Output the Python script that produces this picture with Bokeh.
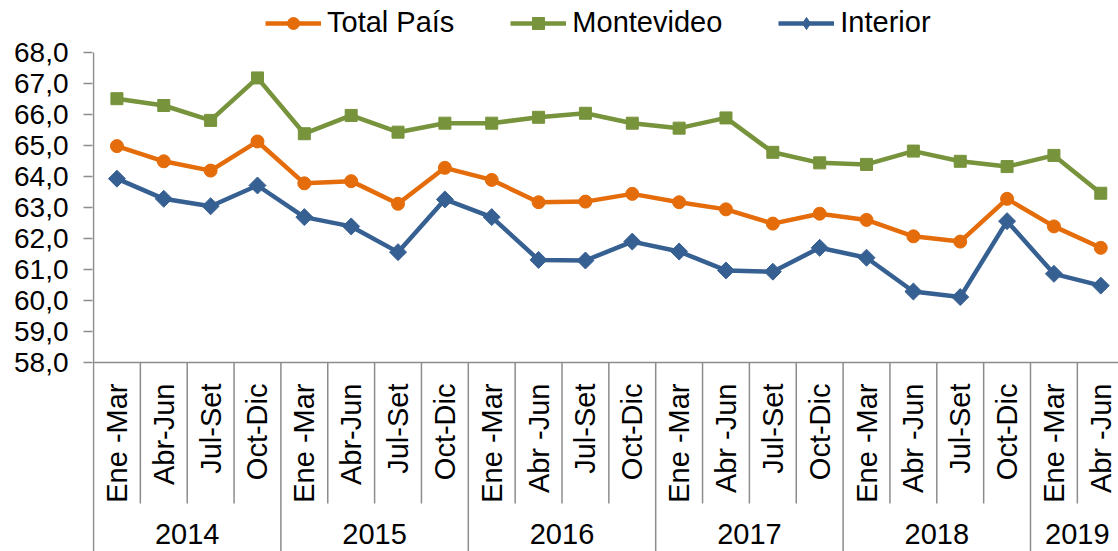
import numpy as np
from bokeh.plotting import figure
from bokeh.models import (Range1d, FixedTicker, CustomJSTickFormatter, Legend,
                          LegendItem)
from bokeh.core.properties import value
from bokeh.embed import file_html
from bokeh.resources import INLINE

# ---------------- data ----------------
quarters = ["Ene -Mar", "Abr-Jun", "Jul-Set", "Oct-Dic",
            "Ene -Mar", "Abr-Jun", "Jul-Set", "Oct-Dic",
            "Ene -Mar", "Abr -Jun", "Jul-Set", "Oct-Dic",
            "Ene -Mar", "Abr -Jun", "Jul-Set", "Oct-Dic",
            "Ene -Mar", "Abr -Jun", "Jul-Set", "Oct-Dic",
            "Ene -Mar", "Abr -Jun"]
years = ["2014", "2015", "2016", "2017", "2018", "2019"]
year_sizes = [4, 4, 4, 4, 4, 2]

total_pais = [64.98, 64.49, 64.19, 65.13, 63.78, 63.85, 63.12, 64.28, 63.89, 63.17, 63.19,
              63.44, 63.17, 62.94, 62.48, 62.80, 62.60, 62.07, 61.90, 63.28, 62.39, 61.70]
montevideo = [66.51, 66.29, 65.81, 67.18, 65.38, 65.97, 65.43, 65.72, 65.72, 65.91, 66.04,
              65.72, 65.56, 65.89, 64.78, 64.44, 64.39, 64.82, 64.49, 64.32, 64.68, 63.46]
interior = [63.93, 63.28, 63.04, 63.71, 62.69, 62.39, 61.56, 63.26, 62.69, 61.31, 61.29,
            61.90, 61.58, 60.97, 60.93, 61.70, 61.38, 60.29, 60.11, 62.56, 60.86, 60.48]

y_ticks = [58, 59, 60, 61, 62, 63, 64, 65, 66, 67, 68]

# ---------------- style ----------------
FONT = "Liberation Sans"
GRAY = "#8c8c8c"
ORANGE = "#E46C0A"
GREEN = "#77933C"
BLUE = "#376092"
W, H = 1118, 551
LEFT = 92           # frame left (px)
CW = 46.85          # px per category
PX_Y = 31.0         # px per unit on y
Y_MIN, Y_MAX = min(y_ticks), max(y_ticks)
y_bottom = Y_MIN - (H - 362) / PX_Y
y_top = Y_MAX + 52 / PX_Y

n = len(quarters)
xs = np.arange(n) + 0.5

p = figure(width=W, height=H, output_backend="svg", toolbar_location=None,
           x_range=Range1d(-1 / CW, (W - LEFT - 1) / CW), y_range=Range1d(y_bottom, y_top),
           x_axis_location=None, min_border_left=LEFT, min_border_right=0,
           min_border_top=0, min_border_bottom=0)
p.grid.visible = False
p.outline_line_color = None
p.background_fill_color = "white"

yax = p.yaxis[0]
yax.ticker = FixedTicker(ticks=y_ticks)
yax.formatter = CustomJSTickFormatter(code="return tick.toFixed(1).replace('.', ',');")
yax.axis_line_color = None
yax.major_tick_in = 0
yax.major_tick_out = 9
yax.major_tick_line_color = GRAY
yax.major_tick_line_width = 1.5
yax.minor_tick_line_color = None
yax.major_label_standoff = 15
yax.major_label_text_font = FONT
yax.major_label_text_font_size = "28px"
yax.major_label_text_color = "black"

# axis lines
p.segment(x0=[0], y0=[y_bottom], x1=[0], y1=[Y_MAX], line_color=GRAY, line_width=1.5)
p.segment(x0=[0], y0=[Y_MIN], x1=[n], y1=[Y_MIN], line_color=GRAY, line_width=1.5)

# category separators
year_bounds = list(np.cumsum(year_sizes))
q_bounds = [k for k in range(1, n) if k not in year_bounds]
q_end = Y_MIN - 141 / PX_Y
p.segment(x0=q_bounds, y0=[Y_MIN] * len(q_bounds), x1=q_bounds, y1=[q_end] * len(q_bounds),
          line_color=GRAY, line_width=1.5)
p.segment(x0=year_bounds, y0=[Y_MIN] * len(year_bounds), x1=year_bounds,
          y1=[y_bottom] * len(year_bounds), line_color=GRAY, line_width=1.5)

# category labels
p.text(x=xs, y=[Y_MIN - 21 / PX_Y] * n, text=quarters, angle=np.pi / 2,
       text_align="right", text_baseline="middle", text_font=value(FONT),
       text_font_size="29px", text_color="black")
starts = [0] + year_bounds[:-1]
year_x = [s + sz / 2 for s, sz in zip(starts, year_sizes)]
p.text(x=year_x, y=[Y_MIN - 171 / PX_Y] * len(years), text=years,
       text_align="center", text_baseline="middle", text_font=value(FONT),
       text_font_size="29px", text_color="black")

# series
items = []
for label, data, color, marker, size, ang, lmarker, lsize in [
        ("Total País", total_pais, ORANGE, "circle", 13, 0, "circle", 12),
        ("Montevideo", montevideo, GREEN, "square", 12, 0, "square", 11),
        ("Interior", interior, BLUE, "square", 12, np.pi / 4, "diamond", 18)]:
    lr = p.line(xs, data, line_color=color, line_width=4.5, line_join="round")
    sr = p.scatter(xs, data, marker=marker, size=size, angle=ang,
                   fill_color=color, line_color=color)
    # legend swatch marker (no visible data points)
    kr = p.scatter([np.nan], [np.nan], marker=lmarker, size=lsize,
                   fill_color=color, line_color=color)
    items.append(LegendItem(label=label, renderers=[lr, kr]))

legend = Legend(items=items, orientation="horizontal", location=(173, H - 39),
                glyph_width=56, glyph_height=30, label_height=30, label_standoff=6,
                spacing=56, padding=0, margin=0, border_line_color=None,
                background_fill_alpha=0, label_text_font=FONT,
                label_text_font_size="29px", label_text_color="black")
p.add_layout(legend)

open("out.html", "w").write(file_html(p, INLINE))
